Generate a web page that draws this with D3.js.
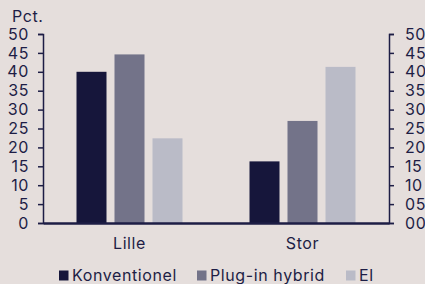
<!DOCTYPE html>
<html>
<head>
<meta charset="utf-8">
<script src="https://cdn.jsdelivr.net/npm/d3@7/dist/d3.min.js"></script>
<style>
  html, body { margin: 0; padding: 0; background: #e5dedc; }
  svg { display: block; font-family: "Inter", "Roboto", sans-serif; }
  svg text { font-size: 16px; letter-spacing: 0.6px; font-family: "Inter", "Roboto", sans-serif; }
</style>
</head>
<body>
<div class="chart"></div>
<script>
var categories = ["Lille", "Stor"];
var series = ["Konventionel", "Plug-in hybrid", "El"];
var konventionel = [40, 16.3];
var pluginHybrid = [44.6, 27];
var el = [22.4, 41.3];
var yTicks = [0, 5, 10, 15, 20, 25, 30, 35, 40, 45, 50];
var colors = ["#16163b", "#737389", "#babbc7"];

var values = [konventionel, pluginHybrid, el];
var ink = "#1d1d45";

var width = 425, height = 284;
var margin = { top: 34, right: 36, bottom: 61, left: 43 };
var w = width - margin.left - margin.right;
var h = height - margin.top - margin.bottom;

var svg = d3.select(".chart").append("svg")
  .attr("width", width)
  .attr("height", height);

svg.append("text")
  .attr("x", 12).attr("y", 22)
  .attr("fill", ink)
  .text("Pct.");

var g = svg.append("g")
  .attr("transform", `translate(${margin.left}, ${margin.top})`);

var yScale = d3.scaleLinear().domain([0, 50]).range([h, 0]);
var xScale = d3.scaleBand().domain(categories).range([0, w]);
var barW = 30, barStep = 38;

// bars
series.forEach(function(s, i) {
  g.selectAll(".bar" + i)
    .data(values[i])
    .enter()
    .append("rect")
    .attr("x", function(d, j) {
      return xScale(categories[j]) + xScale.bandwidth() / 2 + (i - 1) * barStep - barW / 2;
    })
    .attr("y", function(d) { return yScale(d); })
    .attr("width", barW)
    .attr("height", function(d) { return h - yScale(d); })
    .style("fill", colors[i]);
});

// left axis
var left = g.append("g")
  .call(d3.axisLeft(yScale).tickValues(yTicks).tickSize(5).tickSizeOuter(5).tickPadding(9));
// right axis
var right = g.append("g")
  .attr("transform", `translate(${w},0)`)
  .call(d3.axisRight(yScale).tickValues(yTicks).tickSize(5).tickSizeOuter(5).tickPadding(11)
    .tickFormat(d3.format("02d")));

[left, right].forEach(function(a) {
  a.select(".domain").attr("stroke", ink).attr("stroke-width", 1.5);
  a.selectAll(".tick line").attr("stroke", ink).attr("stroke-width", 1.5);
  a.selectAll("text").attr("fill", ink);
});

// baseline + category labels
var xAxis = g.append("g")
  .attr("transform", `translate(0,${h})`)
  .call(d3.axisBottom(xScale).tickSize(0).tickPadding(15));
xAxis.select(".domain").attr("stroke", ink).attr("stroke-width", 2.5);
xAxis.selectAll("text").attr("fill", ink);
left.attr("font-size", null).attr("font-family", null);
right.attr("font-size", null).attr("font-family", null);
xAxis.attr("font-size", null).attr("font-family", null);

// legend
var legendX = [59, 197, 346];
var legend = svg.append("g").attr("transform", "translate(0,281)");
series.forEach(function(s, i) {
  legend.append("rect")
    .attr("x", legendX[i]).attr("y", -10.5)
    .attr("width", 9.5).attr("height", 10)
    .style("fill", colors[i]);
  legend.append("text")
    .attr("x", legendX[i] + 13).attr("y", 0)
    .attr("fill", ink)
    .text(s);
});
</script>
</body>
</html>
